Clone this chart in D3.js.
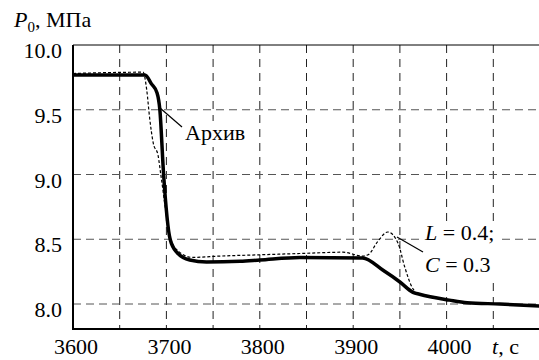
<!DOCTYPE html>
<html>
<head>
<meta charset="utf-8">
<script src="https://cdn.jsdelivr.net/npm/d3@7"></script>
</head>
<body style="margin:0">
<script>
// архивные данные (жирная линия)
var archT = [3600, 3677, 3684, 3690, 3693, 3697, 3704, 3711, 3725, 3743, 3779, 3800, 3843, 3910, 3932, 3950, 3964, 3971, 4003, 4022, 4057, 4100];
var archP = [9.768, 9.768, 9.70, 9.63, 9.50, 9.00, 8.50, 8.40, 8.34, 8.325, 8.33, 8.34, 8.36, 8.355, 8.26, 8.17, 8.09, 8.075, 8.03, 8.01, 8.0, 7.985];

// расчёт L = 0.4; C = 0.3 (штриховая)
var modT = [3600, 3675, 3679, 3682, 3686, 3691, 3694, 3704, 3711, 3728, 3757, 3800, 3843, 3889, 3910, 3916, 3926, 3937, 3948, 3955, 3963, 3967, 3971, 4003, 4022, 4057, 4100];
var modP = [9.78, 9.79, 9.65, 9.44, 9.24, 9.15, 9.00, 8.52, 8.42, 8.36, 8.37, 8.38, 8.39, 8.40, 8.37, 8.38, 8.48, 8.556, 8.47, 8.29, 8.13, 8.09, 8.075, 8.03, 8.01, 8.0, 7.985];

var xTicks = [3600, 3700, 3800, 3900, 4000];
var xGrid = [3650, 3700, 3750, 3800, 3850, 3900, 3950, 4000, 4050];
var yTicks = [8.0, 8.5, 9.0, 9.5, 10.0];

var svg = d3.select("body").append("svg").attr("width", 539).attr("height", 360);

var x = d3.scaleLinear().domain([3600, 4100]).range([73, 540]);
var y = d3.scaleLinear().domain([7.807, 10.0]).range([329, 45]);

// сетка
svg.selectAll("line.vgrid")
    .data(xGrid)
    .enter().append("line")
    .attr("x1", function(d) { return x(d); })
    .attr("x2", function(d) { return x(d); })
    .attr("y1", y(10.0))
    .attr("y2", 329)
    .style("stroke", "#222")
    .style("stroke-width", 1)
    .style("stroke-dasharray", "8,6");

svg.selectAll("line.hgrid")
    .data(yTicks.slice(0, 4))
    .enter().append("line")
    .attr("x1", x(3600))
    .attr("x2", 539)
    .attr("y1", function(d) { return y(d); })
    .attr("y2", function(d) { return y(d); })
    .style("stroke", "#555")
    .style("stroke-width", 1)
    .style("stroke-dasharray", "8,5");

// рамка
svg.append("path")
    .attr("d", "M539," + y(10.0) + "H" + x(3600))
    .style("fill", "none").style("stroke", "#000").style("stroke-width", 1);
svg.append("path")
    .attr("d", "M" + x(3600) + "," + y(10.0) + "V329H539")
    .style("fill", "none").style("stroke", "#000").style("stroke-width", 2);

// кривые
var line = d3.line()
    .x(function(d) { return x(d[0]); })
    .y(function(d) { return y(d[1]); })
    .curve(d3.curveMonotoneX);

svg.append("path")
    .datum(d3.zip(modT, modP))
    .attr("d", line)
    .style("fill", "none")
    .style("stroke", "#000")
    .style("stroke-width", 1.2)
    .style("stroke-dasharray", "3,2");

svg.append("path")
    .datum(d3.zip(archT, archP))
    .attr("d", line)
    .style("fill", "none")
    .style("stroke", "#000")
    .style("stroke-width", 3.5)
    .style("stroke-linejoin", "round");

// белая подложка под выносками
svg.append("rect").attr("x", 183).attr("y", 121).attr("width", 68).attr("height", 26).style("fill", "#fff");
svg.append("rect").attr("x", 422).attr("y", 221).attr("width", 80).attr("height", 60).style("fill", "#fff");
svg.append("line").attr("x1", 160).attr("y1", 108).attr("x2", 182).attr("y2", 127)
    .style("stroke", "#000").style("stroke-width", 1.2);
svg.append("line").attr("x1", 397).attr("y1", 237).attr("x2", 423).attr("y2", 252)
    .style("stroke", "#000").style("stroke-width", 1.2);

// все тексты одним набором, как в проверенном варианте
var labels = [];
yTicks.forEach(function(d) { labels.push({x: 62, y: y(d) + 13, a: "end", parts: [[d.toFixed(1)]]}); });
xTicks.forEach(function(d) { labels.push({x: x(d) + 3, y: 354, a: "middle", parts: [[String(d)]]}); });
labels.push({x: 492, y: 354, a: "start", parts: [["t", "i"], [", с"]]});
labels.push({x: 14, y: 27, a: "start", parts: [["P", "i"], ["0", "sub"], [", МПа", "up"]]});
labels.push({x: 185, y: 140, a: "start", parts: [["Архив"]]});
labels.push({x: 425, y: 240, a: "start", parts: [["L", "i"], [" = 0.4;"]]});
labels.push({x: 425, y: 272, a: "start", parts: [["C", "i"], [" = 0.3"]]});

var t = svg.selectAll("text").data(labels).enter().append("text")
    .attr("x", function(d) { return d.x; })
    .attr("y", function(d) { return d.y; })
    .attr("text-anchor", function(d) { return d.a; })
    .style("font-family", function() { return "Liberation Serif"; })
    .style("font-size", "22px");

t.selectAll("tspan").data(function(d) { return d.parts; }).enter().append("tspan")
    .style("font-style", function(p) { return p[1] === "i" ? "italic" : null; })
    .style("font-size", function(p) { return p[1] === "sub" ? "15px" : null; })
    .attr("dy", function(p) { return p[1] === "sub" ? 5 : p[1] === "up" ? -5 : null; })
    .text(function(p) { return p[0]; });
</script>
</body>
</html>
